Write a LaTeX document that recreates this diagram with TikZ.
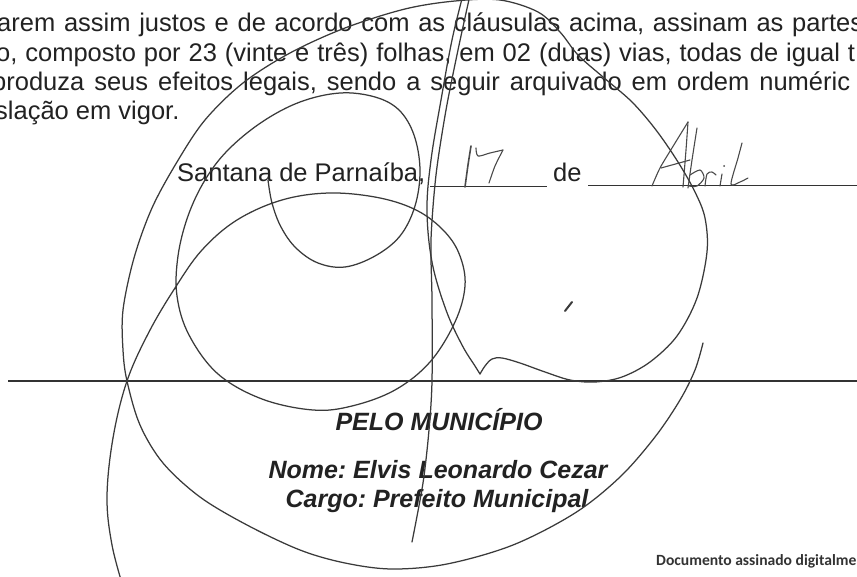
\documentclass[tikz,border=0pt]{standalone}
\usepackage{fontspec}
\setmainfont{Liberation Sans}
\newfontfamily\calib{Carlito}
\definecolor{ink}{HTML}{222222}
\definecolor{pen}{HTML}{3A3A3A}
\definecolor{pentwo}{HTML}{4A4A4A}
\definecolor{ruleink}{HTML}{333333}
\definecolor{docgray}{HTML}{333333}
\frenchspacing
\begin{document}
\begin{tikzpicture}[x=1pt,y=-1pt,
  body/.style={anchor=base west,inner sep=0pt,font=\fontsize{25.5}{30}\selectfont\frenchspacing,text=ink},
  boldc/.style={anchor=base,inner sep=0pt,font=\fontsize{25}{30}\selectfont\bfseries\itshape\frenchspacing,text=ink},
  sig/.style={draw=pen,line width=1.25pt,line cap=round,line join=round},
  hand/.style={draw=pentwo,line width=1.1pt,line cap=round,line join=round},
  ruleline/.style={draw=ruleink,line width=1pt}]
\useasboundingbox (0,0) rectangle (857,577);
\clip (0,0) rectangle (857,577);
\fill[white] (0,0) rectangle (857,577);

% paragraph
\node[body] (l1) at (-3,32) {\makebox[866pt][s]{arem assim justos e de acordo com as cláusulas acima, assinam as partes}};
\node[body] (l2) at (-4,61.5) {\makebox[859pt][s]{o, composto por 23 (vinte e três) folhas, em 02 (duas) vias, todas de igual t}};
\node[body] (l3) at (-8,90.5) {\makebox[858pt][s]{produza seus efeitos legais, sendo a seguir arquivado em ordem numéric}};
\node[body] (l4) at (-5,120) {slação em vigor.};

% date line
\node[body] (city) at (177,182) {Santana de Parnaíba,};
\node[body] (de) at (553,182) {de};
\draw[ruleline] (430,187) -- (547,187);
\draw[ruleline] (588,186) -- (860,186);

% signature line
\draw[draw=ruleink,line width=1.6pt] (8,381) -- (860,381);

\node[boldc] (pelo) at (439,430) {PELO MUNICÍPIO};
\node[boldc] (nome) at (438,478) {Nome: Elvis Leonardo Cezar};
\node[boldc] (cargo) at (437,507) {Cargo: Prefeito Municipal};

\node[anchor=base west,inner sep=0pt,font=\calib\bfseries\fontsize{15.6}{18}\selectfont,text=docgray] (doc) at (656,565) {Documento assinado digitalme};

% handwritten date
\draw[hand,line width=1.6pt] plot[smooth] coordinates {(471,146) (468,165) (465,187)};
\draw[hand] plot[smooth] coordinates {(476,148) (478,156) (490,153) (503,150)};
\draw[hand] plot[smooth] coordinates {(503,150) (495,166) (489,183)};

\draw[hand] plot[smooth] coordinates {(652,186) (660,168) (672,148) (688,122)};
\draw[hand] plot[smooth] coordinates {(688,122) (686,150) (683,187)};
\draw[hand] (661,168) -- (690,160);
\draw[hand] plot[smooth] coordinates {(697,128) (692,160) (688,188)};
\draw[hand] plot[smooth] coordinates {(690,175) (700,170) (704,178) (697,186) (689,186)};
\draw[hand] plot[smooth] coordinates {(705,186) (707,174) (712,172) (716,175)};
\draw[hand] plot[smooth] coordinates {(722,174) (720,186)};
\fill[pentwo] (724,166) circle (1pt);
\draw[hand] plot[smooth] coordinates {(742,143) (738,158) (731,184) (740,182) (748,178)};

% signature
\draw[sig] plot[smooth,tension=0.6] coordinates {(463,-5) (452,40) (441,100) (431,160) (427,210) (432,262) (446,310) (462,345) (475,366) (480,374)};
\draw[sig] plot[smooth,tension=0.55] coordinates {(480,374) (485,366) (492,359) (502,358) (520,363) (545,372) (570,380) (595,382) (622,377) (650,362) (677,336) (697,298) (707,252) (705,218) (695,192) (678,162) (656,130) (632,102) (603,77) (578,55) (560,32) (538,12) (500,0) (455,1) (405,9) (345,28) (290,53) (243,83) (205,120) (177,162) (152,208) (134,258) (123,310) (123,350) (127,381) (140,425) (163,463) (200,497) (247,525) (300,550) (345,563) (392,569) (447,564) (513,545) (575,513) (620,477) (655,437) (680,400) (695,370) (703,343)};
\draw[sig] plot[smooth,tension=0.6] coordinates {(268,180) (272,203) (281,227) (296,248) (318,263) (345,267) (375,256) (400,236) (415,206) (420,170) (414,135) (399,110) (375,97) (340,93) (300,102) (262,122) (228,150) (205,180) (188,216) (178,256) (177,296) (189,335) (218,374) (262,399) (313,410) (352,406) (395,390) (430,362) (455,322) (465,286) (460,256) (445,232) (418,211) (380,198) (330,193) (282,200) (237,220) (202,250) (175,288) (149,332) (127,381) (113,438) (107,497) (112,545) (124,590)};
\draw[sig] plot[smooth] coordinates {(470,-5) (458,50) (446,110) (436,175) (431,240) (432,300) (432,381) (429,430) (423,483) (412,542)};
\draw[sig,line width=2pt] (565,311) -- (572,302);
\end{tikzpicture}
\end{document}
